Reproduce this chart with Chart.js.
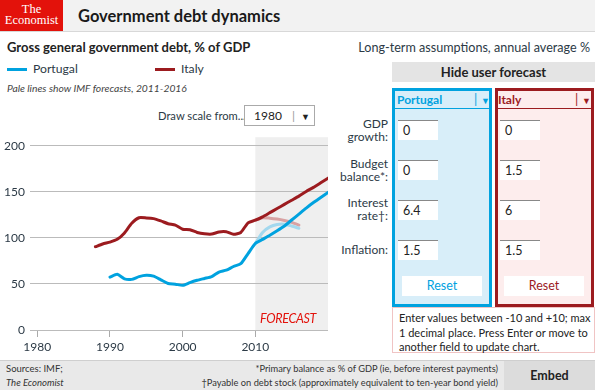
<!DOCTYPE html>
<html>
<head>
<meta charset="utf-8">
<script src="https://cdn.jsdelivr.net/npm/chart.js@4.4.0/dist/chart.umd.min.js"></script>
<style>
    body { margin: 0; width: 595px; height: 390px; overflow: hidden; background: #fff; position: relative;
           font-family: Lato, "Open Sans", sans-serif; color: #222; }
    .abs { position: absolute; white-space: nowrap; }
    #header { left: 0; top: 0; width: 595px; height: 31px; background: #f2f2f2; border-bottom: 1px solid #d8d8d8; }
    #logo { left: 0; top: 0; width: 63px; height: 31px; background: #e3120b; color: #fff; text-align: center;
            font-family: "Liberation Serif", "DejaVu Serif", serif; font-size: 12.5px; line-height: 11px; padding-top: 4px; box-sizing: border-box; }
    #title { left: 78px; top: 4px; font-size: 16.5px; font-weight: bold; line-height: 24px; color: #1a1a1a; }
    .box { position: absolute; box-sizing: border-box; }
    .input { position: absolute; width: 40px; height: 20px; background: #fff; border-top: 1px solid #888;
             font-size: 12.5px; line-height: 20px; padding-left: 5px; box-sizing: border-box; }
    .lbl { position: absolute; right: 207px; text-align: right; font-size: 12px; line-height: 13px; color: #2c3a46; }
    .reset { position: absolute; width: 80px; height: 20px; background: #fff; text-align: center; font-size: 12.5px; line-height: 20px; }
    canvas { position: absolute; left: 0; top: 125px; }
</style>
</head>
<body>
<div class="abs" id="header"></div>
<div class="abs" id="logo">The<br>Economist</div>
<div class="abs" id="title">Government debt dynamics</div>

<div class="abs" style="left:7px;top:39px;font-size:13px;font-weight:bold;line-height:17px;">Gross general government debt, % of GDP</div>
<div class="abs" style="left:7px;top:68px;width:20px;height:3px;background:#00a2df;"></div>
<div class="abs" style="left:33px;top:61px;font-size:12.2px;line-height:16px;color:#2c3a46;">Portugal</div>
<div class="abs" style="left:155px;top:68px;width:20px;height:3px;background:#9c1b1f;"></div>
<div class="abs" style="left:181px;top:61px;font-size:12.2px;line-height:16px;color:#2c3a46;">Italy</div>
<div class="abs" style="left:7px;top:81px;font-size:10.3px;font-style:italic;line-height:14px;color:#444;">Pale lines show IMF forecasts, 2011-2016</div>

<div class="abs" style="left:158px;top:108px;font-size:11.2px;line-height:15px;color:#2c3a46;">Draw scale from...</div>
<div class="box" style="left:244px;top:105px;width:71px;height:21px;border:1px solid #aaa;background:#fff;z-index:2;">
    <span class="abs" style="left:9px;top:2px;font-size:12px;line-height:15px;">1980</span>
    <span class="abs" style="left:47px;top:2px;font-size:12px;line-height:15px;color:#999;">|</span>
    <span class="abs" style="left:56px;top:3px;font-size:9px;line-height:15px;">&#9660;</span>
</div>

<div class="abs" style="left:260px;top:310px;font-size:12.5px;font-style:italic;letter-spacing:-0.3px;line-height:17px;color:#e3120b;z-index:2;">FORECAST</div>

<!-- right panel -->
<div class="abs" style="right:5px;top:40px;font-size:12.6px;line-height:16px;color:#2c3a46;">Long-term assumptions, annual average %</div>
<div class="box" style="left:392px;top:62px;width:203px;height:20px;background:#e4e4e4;text-align:center;font-size:13px;font-weight:bold;line-height:20px;">Hide user forecast</div>

<div class="box" style="left:392px;top:88px;width:100px;height:219px;border:3px solid #00a2df;background:#d8eef9;"></div>
<div class="abs" style="left:395px;top:108px;width:94px;height:1px;background:#00a2df;"></div>
<div class="abs" style="left:397px;top:91px;font-size:12px;font-weight:bold;line-height:17px;color:#00a2df;">Portugal</div>
<div class="abs" style="left:474px;top:91px;font-size:13px;line-height:17px;color:#00a2df;">|</div>
<div class="abs" style="left:481px;top:92px;font-size:9px;line-height:17px;color:#00a2df;">&#9660;</div>

<div class="box" style="left:495px;top:88px;width:99px;height:219px;border:3px solid #9c1b1f;background:#fdeded;"></div>
<div class="abs" style="left:498px;top:108px;width:93px;height:1px;background:#9c1b1f;"></div>
<div class="abs" style="left:498px;top:91px;font-size:12px;font-weight:bold;line-height:17px;color:#9c1b1f;">Italy</div>
<div class="abs" style="left:575px;top:91px;font-size:13px;line-height:17px;color:#9c1b1f;">|</div>
<div class="abs" style="left:582px;top:92px;font-size:9px;line-height:17px;color:#9c1b1f;">&#9660;</div>

<div class="lbl" style="top:117px;">GDP<br>growth:</div>
<div class="lbl" style="top:157px;">Budget<br>balance*:</div>
<div class="lbl" style="top:196px;">Interest<br>rate&#8224;:</div>
<div class="lbl" style="top:243px;">Inflation:</div>

<div class="input" style="left:398px;top:120px;">0</div>
<div class="input" style="left:398px;top:160px;">0</div>
<div class="input" style="left:398px;top:200px;">6.4</div>
<div class="input" style="left:398px;top:240px;">1.5</div>
<div class="input" style="left:500px;top:120px;">0</div>
<div class="input" style="left:500px;top:160px;">1.5</div>
<div class="input" style="left:500px;top:200px;">6</div>
<div class="input" style="left:500px;top:240px;">1.5</div>

<div class="reset" style="left:402px;top:276px;color:#00a2df;">Reset</div>
<div class="reset" style="left:504px;top:276px;color:#9c1b1f;">Reset</div>

<div class="box" style="left:392px;top:307px;width:203px;height:46px;border:1px solid #f0c4c4;background:#fff;padding:3px 0 0 6px;font-size:11px;line-height:14.5px;white-space:nowrap;">Enter values between -10 and +10; max<br>1 decimal place. Press Enter or move to<br>another field to update chart.</div>

<!-- footer -->
<div class="box" style="left:0;top:360px;width:595px;height:30px;background:#e9e9e9;border-top:1px solid #cfcfcf;"></div>
<div class="abs" style="left:6px;top:362px;font-size:9.5px;line-height:14px;color:#333;">Sources: IMF;<br><i>The Economist</i></div>
<div class="abs" style="right:97px;top:362px;font-size:9.3px;line-height:14px;color:#333;text-align:right;">*Primary balance as % of GDP (ie, before interest payments)<br>&#8224;Payable on debt stock (approximately equivalent to ten-year bond yield)</div>
<div class="box" style="left:504px;top:361px;width:91px;height:29px;background:#dcdcdc;text-align:center;font-size:12.5px;font-weight:bold;line-height:29px;">Embed</div>

<canvas id="chart" width="340" height="235"></canvas>

<script>
// Gross general government debt, % of GDP
const italyYears = [1988, 1989, 1990, 1991, 1992, 1993, 1994, 1995, 1996, 1997, 1998, 1999, 2000, 2001, 2002, 2003, 2004,
    2005, 2006, 2007, 2008, 2009, 2010, 2011, 2012, 2013, 2014, 2015, 2016, 2017, 2018, 2019, 2020];
const italyDebt = [90.5, 93.5, 95.5, 98.5, 105.5, 116, 122, 121.8, 121, 118.5, 115.5, 114, 109.5, 109, 106, 104.5, 104.2,
    106.5, 106.7, 104, 106, 116.5, 119.3, 123, 127.5, 132, 136.5, 141, 145.5, 150.5, 155, 160, 165];

const portugalYears = [1990, 1991, 1992, 1993, 1994, 1995, 1996, 1997, 1998, 1999, 2000, 2001, 2002, 2003, 2004,
    2005, 2006, 2007, 2008, 2009, 2010, 2011, 2012, 2013, 2014, 2015, 2016, 2017, 2018, 2019, 2020];
const portugalDebt = [57.5, 60.5, 55.5, 55, 58, 59.5, 58.5, 54.5, 50.5, 49.8, 48.5, 51.5, 54, 56, 58,
    63, 65, 69, 72, 83, 94, 98.5, 103, 107.8, 113, 119.5, 126, 132.5, 138.5, 144, 149.5];

// IMF forecasts, 2011-2016 (pale lines)
const imfYears = [2010, 2011, 2012, 2013, 2014, 2015, 2016];
const italyImf = [119.3, 122, 121.5, 120.5, 119, 117, 114];
const portugalImf = [94, 106, 112, 114.7, 115, 113, 110.5];

const xTickYears = [1980, 1990, 2000, 2010];
const yTickValues = [0, 50, 100, 150, 200];
const forecastStart = 2010;

const FONT = 'Lato, "Open Sans", sans-serif';

function points(xs, ys) {
    return xs.map((x, i) => ({ x: x, y: ys[i] }));
}

const forecastShade = {
    id: 'forecastShade',
    beforeDraw(chart) {
        const { ctx, chartArea, scales } = chart;
        const left = scales.x.getPixelForValue(forecastStart);
        ctx.save();
        ctx.fillStyle = '#efefef';
        ctx.fillRect(left, chartArea.top, chartArea.right - left, chartArea.bottom - chartArea.top + 1);
        ctx.restore();
    }
};

function line(label, data, color) {
    return {
        label: label,
        data: data,
        borderColor: color,
        borderWidth: 3,
        pointRadius: 0,
        tension: 0.2,
        borderCapStyle: 'round',
        borderJoinStyle: 'round',
        fill: false
    };
}

new Chart(document.getElementById('chart'), {
    type: 'line',
    data: {
        datasets: [
            line('Portugal', points(portugalYears, portugalDebt), '#00a2df'),
            line('Italy', points(italyYears, italyDebt), '#9c1b1f'),
            line('Portugal IMF', points(imfYears, portugalImf), '#a3d8ee'),
            line('Italy IMF', points(imfYears, italyImf), '#d8a2a3')
        ]
    },
    options: {
        responsive: false,
        animation: false,
        events: [],
        layout: { padding: { top: 5, right: 12, left: 0, bottom: 0 } },
        plugins: { legend: { display: false }, tooltip: { enabled: false } },
        scales: {
            x: {
                type: 'linear',
                min: 1979,
                max: 2020,
                afterBuildTicks: scale => { scale.ticks = xTickYears.map(v => ({ value: v })); },
                afterFit: scale => { scale.height = 30; },
                border: { display: false },
                grid: { drawOnChartArea: false, drawTicks: true, tickLength: 7, color: '#aaa' },
                ticks: {
                    padding: 3,
                    color: '#2c3a46',
                    font: { family: FONT, size: 12 },
                    maxRotation: 0,
                    callback: v => String(v)
                }
            },
            y: {
                min: 0,
                max: 209.5,
                afterBuildTicks: scale => { scale.ticks = yTickValues.map(v => ({ value: v })); },
                afterFit: scale => { scale.width = 30; },
                border: { display: false },
                grid: { drawTicks: false, color: '#bbb' },
                ticks: {
                    padding: 5,
                    color: '#2c3a46',
                    font: { family: FONT, size: 12 }
                }
            }
        }
    },
    plugins: [forecastShade]
});
</script>
</body>
</html>
